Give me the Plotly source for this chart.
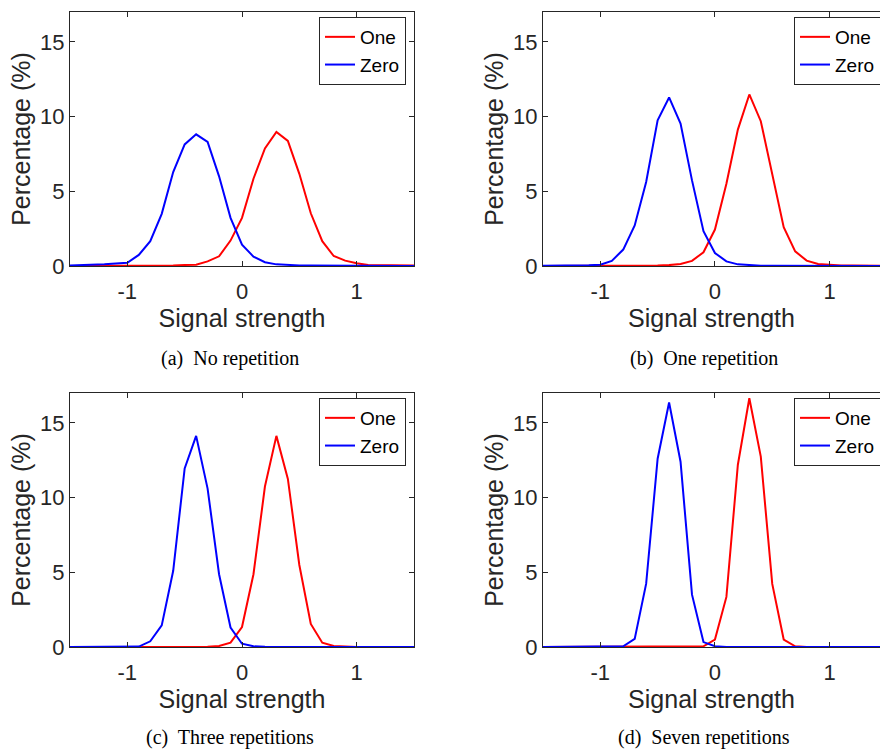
import plotly.graph_objects as go

# ---------------- data ----------------
signal = [-1.5, -1.4, -1.3, -1.2, -1.1, -1.0, -0.9, -0.8, -0.7, -0.6, -0.5,
          -0.4, -0.3, -0.2, -0.1, 0.0, 0.1, 0.2, 0.3, 0.4, 0.5,
          0.6, 0.7, 0.8, 0.9, 1.0, 1.1, 1.2, 1.3, 1.4, 1.5]

# (a) No repetition
a_one = [0.00, 0.00, 0.01, 0.01, 0.01, 0.02, 0.02, 0.03, 0.03, 0.04, 0.07,
         0.09, 0.31, 0.65, 1.70, 3.22, 5.84, 7.87, 8.97, 8.37, 6.17,
         3.53, 1.66, 0.67, 0.36, 0.18, 0.07, 0.05, 0.04, 0.03, 0.03]
a_zero = [0.04, 0.05, 0.07, 0.11, 0.16, 0.22, 0.74, 1.66, 3.49, 6.29, 8.14,
          8.81, 8.30, 6.00, 3.22, 1.43, 0.63, 0.25, 0.11, 0.06, 0.04,
          0.03, 0.02, 0.02, 0.01, 0.01, 0.01, 0.01, 0.00, 0.00, 0.00]

# (b) One repetition
b_one = [0.00, 0.00, 0.00, 0.00, 0.00, 0.01, 0.01, 0.01, 0.02, 0.02, 0.03,
         0.06, 0.13, 0.34, 0.92, 2.44, 5.50, 9.13, 11.48, 9.69, 6.06,
         2.60, 0.98, 0.36, 0.13, 0.06, 0.04, 0.03, 0.02, 0.01, 0.01]
b_zero = [0.02, 0.02, 0.03, 0.04, 0.05, 0.09, 0.34, 1.10, 2.71, 5.62, 9.75,
          11.28, 9.53, 5.73, 2.33, 0.87, 0.31, 0.11, 0.05, 0.02, 0.01,
          0.01, 0.00, 0.00, 0.00, 0.00, 0.00, 0.00, 0.00, 0.00, 0.00]

# (c) Three repetitions
c_one = [0.00, 0.00, 0.00, 0.00, 0.00, 0.00, 0.00, 0.00, 0.00, 0.00, 0.00,
         0.00, 0.01, 0.07, 0.29, 1.34, 4.87, 10.74, 14.13, 11.25, 5.49,
         1.54, 0.29, 0.07, 0.02, 0.00, 0.00, 0.00, 0.00, 0.00, 0.00]
c_zero = [0.00, 0.00, 0.00, 0.00, 0.00, 0.00, 0.03, 0.38, 1.45, 5.10, 11.95,
          14.13, 10.60, 4.87, 1.30, 0.22, 0.05, 0.01, 0.00, 0.00, 0.00,
          0.00, 0.00, 0.00, 0.00, 0.00, 0.00, 0.00, 0.00, 0.00, 0.00]

# (d) Seven repetitions
d_one = [0.00, 0.00, 0.00, 0.00, 0.00, 0.00, 0.00, 0.00, 0.00, 0.00, 0.00,
         0.00, 0.00, 0.00, 0.05, 0.50, 3.35, 12.20, 16.65, 12.74, 4.22,
         0.50, 0.05, 0.00, 0.00, 0.00, 0.00, 0.00, 0.00, 0.00, 0.00]
d_zero = [0.00, 0.00, 0.00, 0.00, 0.00, 0.00, 0.00, 0.05, 0.54, 4.24, 12.60,
          16.36, 12.40, 3.50, 0.33, 0.05, 0.00, 0.00, 0.00, 0.00, 0.00,
          0.00, 0.00, 0.00, 0.00, 0.00, 0.00, 0.00, 0.00, 0.00, 0.00]

series_names = ["One", "Zero"]
captions = ["(a)\u00a0 No repetition", "(b)\u00a0 One repetition",
            "(c)\u00a0 Three repetitions", "(d)\u00a0 Seven repetitions"]
x_tick_vals = [-1, 0, 1]
x_tick_text = ["-1", "0", "1"]
y_tick_vals = [0, 5, 10, 15]
y_tick_text = ["0", "5", "10", "15"]
x_title = "Signal strength"
y_title = "Percentage (%)"

# ---------------- figure ----------------
W, H = 880, 750
AX = "#262626"
SANS = "Liberation Sans, Arial, Helvetica, sans-serif"
SERIF = "Liberation Serif, Times New Roman, serif"

panels = [
    (a_one, a_zero, "x", "y", "legend"),
    (b_one, b_zero, "x2", "y2", "legend2"),
    (c_one, c_zero, "x3", "y3", "legend3"),
    (d_one, d_zero, "x4", "y4", "legend4"),
]

fig = go.Figure()
for one, zero, xa, ya, lg in panels:
    fig.add_trace(go.Scatter(x=signal, y=one, mode="lines", name=series_names[0],
                             line=dict(color="#FF0000", width=2),
                             xaxis=xa, yaxis=ya, legend=lg))
    fig.add_trace(go.Scatter(x=signal, y=zero, mode="lines", name=series_names[1],
                             line=dict(color="#0000FF", width=2),
                             xaxis=xa, yaxis=ya, legend=lg))

# pixel geometry of the axes boxes
col_x = [(70, 414), (543, 880)]
row_y = [(12, 266), (393, 647)]
x_ranges = [[-1.5, 1.5], [-1.5, 1.44]]

def px_dom_x(a, b):
    return [a / W, b / W]

def px_dom_y(top, bottom):
    return [1 - bottom / H, 1 - top / H]

layout = dict(
    width=W, height=H,
    margin=dict(l=0, r=0, t=0, b=0, autoexpand=False),
    paper_bgcolor="white", plot_bgcolor="white",
    font=dict(family=SANS, color=AX),
    showlegend=True,
)

for i in range(4):
    r, c = divmod(i, 2)
    suffix = "" if i == 0 else str(i + 1)
    xl, xr = col_x[c]
    yt, yb = row_y[r]
    layout["xaxis" + suffix] = dict(
        domain=px_dom_x(xl, xr), anchor="y" + suffix,
        range=x_ranges[c], tickmode="array", tickvals=x_tick_vals, ticktext=x_tick_text,
        ticks="inside", ticklen=5, tickcolor=AX, tickwidth=1,
        showline=True, linecolor=AX, linewidth=1, mirror="ticks",
        showgrid=False, zeroline=False,
        tickfont=dict(size=22, color=AX, family=SANS),
        ticklabelstandoff=6,
        title=dict(text=x_title, font=dict(size=25, color=AX, family=SANS), standoff=5),
    )
    layout["yaxis" + suffix] = dict(
        domain=px_dom_y(yt, yb), anchor="x" + suffix,
        range=[0, 17], tickmode="array", tickvals=y_tick_vals, ticktext=y_tick_text,
        ticks="inside", ticklen=5, tickcolor=AX, tickwidth=1,
        showline=True, linecolor=AX, linewidth=1,
        mirror="ticks" if c == 0 else False,
        showgrid=False, zeroline=False,
        tickfont=dict(size=22, color=AX, family=SANS),
        title=dict(text=y_title, font=dict(size=25, color=AX, family=SANS), standoff=2),
    )
    legend_key = "legend" + suffix
    legend_right = 406 if c == 0 else 881
    legend_top = 17 if r == 0 else 398
    layout[legend_key] = dict(
        x=legend_right / W, xanchor="right",
        y=1 - legend_top / H, yanchor="top",
        bgcolor="white", bordercolor=AX, borderwidth=1,
        font=dict(size=19, color="black", family=SANS),
        itemwidth=30, tracegroupgap=0,
    )

fig.update_layout(**layout)

caption_x = [230, 704]
caption_y = [358, 737]
for i, cap in enumerate(captions):
    r, c = divmod(i, 2)
    fig.add_annotation(text=cap, xref="paper", yref="paper",
                       x=caption_x[c] / W, y=1 - caption_y[r] / H,
                       xanchor="center", yanchor="middle", showarrow=False,
                       font=dict(family=SERIF, size=20, color="black"))

# the page's default 8px body margin would shift the figure; remove it
fig.write_html("out.html", config={"displayModeBar": False},
               post_script="document.body.style.margin='0px';")
